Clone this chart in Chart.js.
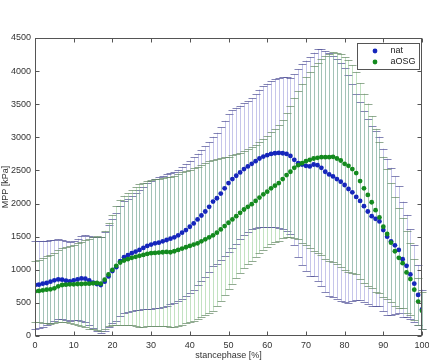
<!DOCTYPE html>
<html>
<head>
  <title>MPP over the stance phase</title>
  <style>
    body { margin: 0; background: #fff; }
  </style>
</head>
<body>
  <canvas id="mpp_chart" width="429" height="364"></canvas>

  <script src="https://cdn.jsdelivr.net/npm/chart.js@4/dist/chart.umd.min.js"></script>
  <script>
    // stance phase in percent (x positions of the points)
    const stance = [0,1,2,3,4,5,6,7,8,9,10,11,12,13,14,15,16,17,18,19,20,21,22,23,24,25,26,27,28,29,30,
      31,32,33,34,35,36,37,38,39,40,41,42,43,44,45,46,47,48,49,50,51,52,53,54,55,56,57,58,59,60,
      61,62,63,64,65,66,67,68,69,70,71,72,73,74,75,76,77,78,79,80,81,82,83,84,85,86,87,88,89,90,
      91,92,93,94,95,96,97,98,99,100];

    // nat: mean and standard deviation [kPa]
    const natMean = [770,775,790,800,820,840,855,850,835,825,840,855,870,865,840,805,785,770,820,900,980,
      1040,1130,1190,1220,1250,1275,1300,1330,1360,1380,1400,1410,1430,1450,1470,1490,1520,1560,1600,1650,
      1700,1760,1820,1880,1950,2030,2080,2150,2230,2310,2370,2420,2470,2520,2560,2600,2640,2680,2710,2730,
      2750,2760,2765,2760,2750,2720,2660,2610,2590,2570,2560,2590,2580,2540,2480,2440,2410,2370,2330,2280,
      2220,2170,2100,2040,1960,1880,1810,1770,1730,1600,1500,1430,1370,1300,1160,1060,930,790,620,400];
    const natSd = [660,660,650,640,630,615,605,600,600,595,595,615,645,660,670,690,710,730,750,770,790,
      810,830,845,855,865,880,900,925,945,965,975,985,990,990,990,990,990,995,1000,1000,
      1000,995,990,985,980,980,990,1000,1020,1035,1040,1030,1010,995,985,990,1010,1040,1060,1080,
      1100,1120,1135,1145,1160,1180,1290,1420,1520,1590,1650,1690,1750,1790,1820,1830,1820,1810,1800,1770,
      1720,1640,1560,1490,1440,1400,1360,1320,1280,1230,1180,1110,1040,960,870,770,680,580,450,300];

    // aOSG: mean and standard deviation [kPa]
    const osgMean = [675,680,690,700,705,720,750,770,775,780,780,785,785,790,790,795,800,790,850,930,1000,
      1060,1110,1140,1160,1180,1195,1210,1225,1240,1250,1255,1260,1265,1270,1265,1280,1300,1320,1340,1360,
      1380,1400,1430,1460,1490,1520,1560,1610,1660,1710,1760,1810,1860,1910,1950,1990,2040,2090,2140,2180,
      2230,2270,2310,2370,2430,2480,2540,2580,2610,2640,2660,2680,2690,2700,2700,2700,2705,2680,2650,2600,
      2570,2520,2460,2340,2230,2130,2020,1900,1790,1650,1540,1410,1280,1180,1100,960,860,700,520,380];
    const osgSd = [460,470,490,505,520,530,545,555,565,585,600,620,640,660,680,695,705,710,740,780,830,
      900,950,980,1000,1020,1050,1080,1090,1095,1100,1110,1115,1120,1125,1130,1140,1150,1150,1150,1150,
      1150,1150,1150,1150,1150,1140,1110,1080,1040,1000,970,940,910,890,870,860,850,840,840,840,
      845,855,870,890,930,990,1060,1120,1200,1270,1330,1400,1440,1480,1530,1560,1580,1600,1610,1610,
      1600,1570,1530,1480,1430,1380,1300,1230,1140,1060,980,900,820,750,680,620,540,460,360,280];

    const seriesNames = ["nat", "aOSG"];

    function points(means) {
      return stance.map(function (s, i) { return {x: s, y: means[i]}; });
    }

    // mean +/- sd bars with caps, drawn under the dots
    const errorBars = {
      id: "errorBars",
      beforeDatasetsDraw(chart) {
        const ctx = chart.ctx;
        const xs = chart.scales.x, ys = chart.scales.y;
        ctx.save();
        ctx.lineWidth = 1;
        chart.data.datasets.forEach(function (ds) {
          ds.data.forEach(function (p, i) {
            const px = Math.round(xs.getPixelForValue(p.x)) + 0.5;
            const top = ys.getPixelForValue(p.y + ds.errors[i]);
            const bot = ys.getPixelForValue(Math.max(0, p.y - ds.errors[i]));
            ctx.strokeStyle = ds.barColor;
            ctx.beginPath();
            ctx.moveTo(px, top);
            ctx.lineTo(px, bot);
            ctx.stroke();
            ctx.strokeStyle = ds.capColor;
            ctx.beginPath();
            ctx.moveTo(px - 4, Math.round(top) + 0.5);
            ctx.lineTo(px + 4, Math.round(top) + 0.5);
            if (p.y - ds.errors[i] > 0) {
              ctx.moveTo(px - 4, Math.round(bot) + 0.5);
              ctx.lineTo(px + 4, Math.round(bot) + 0.5);
            }
            ctx.stroke();
          });
        });
        ctx.restore();
      }
    };

    // matlab style box with ticks on all four sides, plus legend
    const boxAndLegend = {
      id: "boxAndLegend",
      afterDraw(chart) {
        const ctx = chart.ctx;
        const a = chart.chartArea;
        const xs = chart.scales.x, ys = chart.scales.y;
        ctx.save();
        ctx.strokeStyle = "#555";
        ctx.lineWidth = 1;
        const l = Math.round(a.left) + 0.5, r = Math.round(a.right) - 0.5;
        const t = Math.round(a.top) + 0.5, b = Math.round(a.bottom) - 0.5;
        ctx.strokeRect(l, t, r - l, b - t);
        ctx.beginPath();
        xs.ticks.forEach(function (tk) {
          const px = Math.round(xs.getPixelForValue(tk.value)) + 0.5;
          ctx.moveTo(px, b); ctx.lineTo(px, b - 4);
          ctx.moveTo(px, t); ctx.lineTo(px, t + 4);
        });
        ys.ticks.forEach(function (tk) {
          const py = Math.round(ys.getPixelForValue(tk.value)) + 0.5;
          ctx.moveTo(l, py); ctx.lineTo(l + 4, py);
          ctx.moveTo(r, py); ctx.lineTo(r - 4, py);
        });
        ctx.stroke();

        // legend box in the top right corner
        const bx = 357.5, by = 43.5, bw = 62, bh = 26;
        ctx.fillStyle = "#fff";
        ctx.fillRect(bx, by, bw, bh);
        ctx.strokeStyle = "#555";
        ctx.strokeRect(bx, by, bw, bh);
        ctx.font = "9px 'Liberation Sans', Arial, sans-serif";
        ctx.textBaseline = "middle";
        chart.data.datasets.forEach(function (ds, i) {
          const y = by + 7.5 + i * 11;
          ctx.fillStyle = ds.backgroundColor;
          ctx.beginPath();
          ctx.arc(bx + 17.5, y, 2.4, 0, Math.PI * 2);
          ctx.fill();
          ctx.fillStyle = "#222";
          ctx.fillText(ds.label, bx + 33, y);
        });
        ctx.restore();
      }
    };

    const tickFont = {family: "'Liberation Sans', Arial, sans-serif", size: 9};

    new Chart("mpp_chart", {
      type: "scatter",
      data: {
        datasets: [{
          label: seriesNames[0],
          data: points(natMean),
          errors: natSd,
          backgroundColor: "#1526bb",
          barColor: "rgba(120,120,205,0.42)",
          capColor: "rgba(80,80,150,0.7)",
          pointRadius: 2.4,
          pointBorderWidth: 0,
          order: 1
        }, {
          label: seriesNames[1],
          data: points(osgMean),
          errors: osgSd,
          backgroundColor: "#138a1e",
          barColor: "rgba(120,190,120,0.45)",
          capColor: "rgba(100,135,100,0.7)",
          pointRadius: 2.4,
          pointBorderWidth: 0,
          order: 0
        }]
      },
      options: {
        responsive: false,
        animation: false,
        layout: {padding: {top: 38, right: 7, left: 0, bottom: 0}},
        plugins: {legend: {display: false}, tooltip: {enabled: false}},
        scales: {
          x: {
            type: "linear",
            min: 0, max: 100,
            grid: {display: false, drawTicks: false},
            border: {display: false},
            ticks: {stepSize: 10, font: tickFont, color: "#333", padding: 4, maxRotation: 0},
            title: {display: true, text: "stancephase [%]", font: tickFont, color: "#333", padding: {top: 0, bottom: 3}},
            afterFit(scale) { scale.height = 28; scale.paddingLeft = 0; scale.paddingRight = 0; }
          },
          y: {
            min: 0, max: 4500,
            grid: {display: false, drawTicks: false},
            border: {display: false},
            ticks: {stepSize: 500, font: tickFont, color: "#333", padding: 4,
              callback: function (v) { return String(v); }},
            title: {display: true, text: "MPP [kPa]", font: tickFont, color: "#333", padding: {top: 0, bottom: 0}},
            afterFit(scale) { scale.width = 35; }
          }
        }
      },
      plugins: [errorBars, boxAndLegend]
    });
  </script>
</body>
</html>
